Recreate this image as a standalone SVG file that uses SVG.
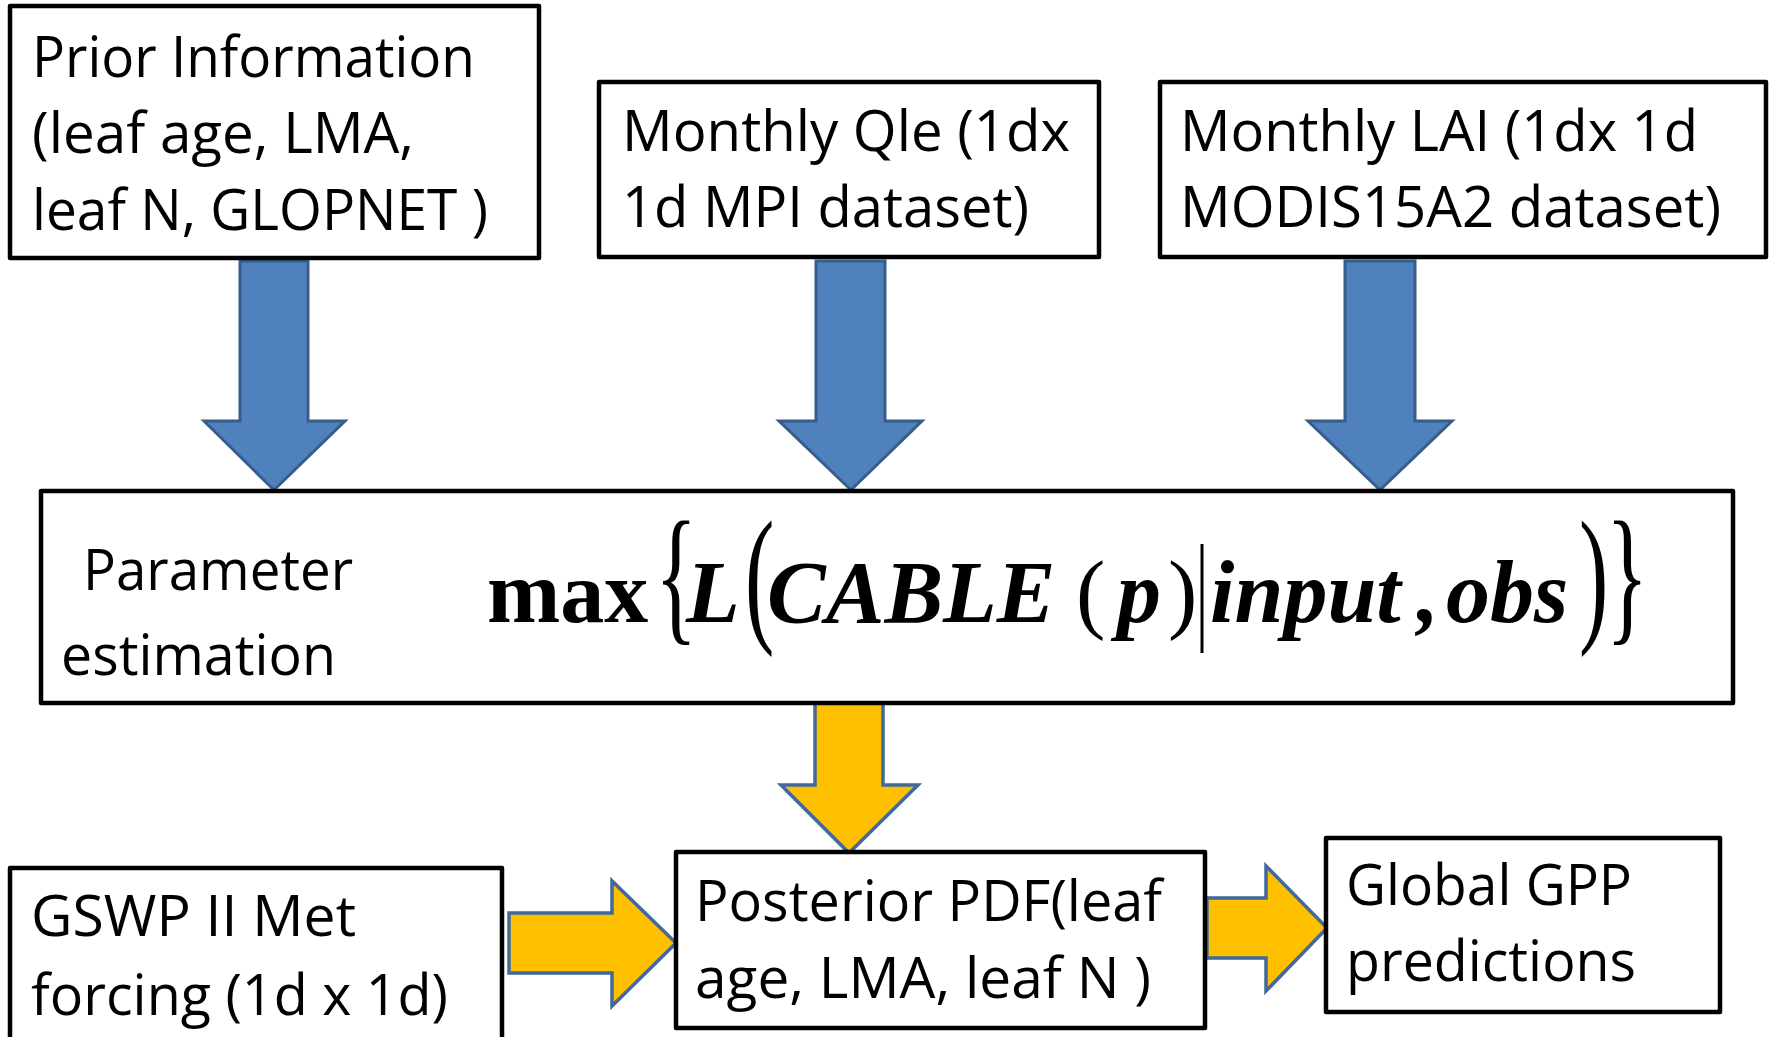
<svg xmlns="http://www.w3.org/2000/svg" width="1773" height="1037" viewBox="0 0 1773 1037">
  <style>
    .box { fill: #ffffff; stroke: #000000; stroke-width: 4.5; stroke-linejoin: round; }
    .lbl { font-family: "Open Sans", "Liberation Sans", sans-serif; font-size: 56px; fill: #000000; }
    .blue { fill: #4F81BD; stroke: #385D8A; stroke-width: 3; stroke-linejoin: miter; }
    .gold { fill: #FFC000; stroke: #41699A; stroke-width: 3.5; stroke-linejoin: miter; }
    .eq { font-family: "Liberation Serif", "Times New Roman", serif; font-size: 88px; fill: #000000; }
    .bi { font-weight: bold; font-style: italic; }
    .b { font-weight: bold; }
  </style>

  <rect width="1773" height="1037" fill="#ffffff"/>

  <!-- block arrows between the steps -->
  <g id="connectors">
    <polygon class="blue" points="240,261 308,261 308,421 345,421 274,490 204,421 240,421"/>
    <polygon class="blue" points="816,261 885,261 885,421 922,421 851,490 779,421 816,421"/>
    <polygon class="blue" points="1345,261 1415,261 1415,421 1452,421 1380,490 1308,421 1345,421"/>
    <polygon class="gold" points="815,703 883,703 883,785 918,785 849,853 781,785 815,785"/>
    <polygon class="gold" points="509,913 612,913 612,881 676,943 612,1006 612,973 509,973"/>
    <polygon class="gold" points="1207,898 1266,898 1266,866 1327,928 1266,991 1266,958 1207,958"/>
  </g>

  <g id="prior">
    <rect class="box" x="10" y="6" width="529" height="252"/>
    <text class="lbl" x="32" y="77" textLength="443" lengthAdjust="spacingAndGlyphs">Prior Information</text>
    <text class="lbl" x="32" y="153" textLength="382" lengthAdjust="spacingAndGlyphs">(leaf age, LMA,</text>
    <text class="lbl" x="32" y="230" textLength="456" lengthAdjust="spacingAndGlyphs">leaf N, GLOPNET )</text>
  </g>

  <g id="qle">
    <rect class="box" x="599" y="82" width="500" height="175"/>
    <text class="lbl" x="622" y="151" textLength="448" lengthAdjust="spacingAndGlyphs">Monthly Qle (1dx</text>
    <text class="lbl" x="622" y="227" textLength="407" lengthAdjust="spacingAndGlyphs">1d MPI dataset)</text>
  </g>

  <g id="lai">
    <rect class="box" x="1160" y="82" width="606" height="175"/>
    <text class="lbl" x="1180" y="151" textLength="518" lengthAdjust="spacingAndGlyphs">Monthly LAI (1dx 1d</text>
    <text class="lbl" x="1180" y="227" textLength="541" lengthAdjust="spacingAndGlyphs">MODIS15A2 dataset)</text>
  </g>

  <g id="estimation">
    <rect class="box" x="41" y="491" width="1692" height="212"/>
    <text class="lbl" x="83" y="590" textLength="270" lengthAdjust="spacingAndGlyphs">Parameter</text>
    <text class="lbl" x="61" y="675" textLength="275" lengthAdjust="spacingAndGlyphs">estimation</text>
    <!-- likelihood expression -->
    <g class="eq">
      <text class="b" x="487" y="622">max</text>
      <text transform="translate(655,588) scale(1,1.7)" y="22">{</text>
      <text class="bi" x="686" y="622">L</text>
      <text transform="translate(745,588) scale(1,1.7)" y="22">(</text>
      <text class="bi" x="767" y="622">CABLE</text>
      <text x="1076" y="622">(</text>
      <text class="bi" x="1117" y="622">p</text>
      <text x="1168" y="622">)</text>
      <line x1="1202" y1="544" x2="1202" y2="653" stroke="#000000" stroke-width="3"/>
      <text class="bi" x="1210" y="622">input</text>
      <text class="bi" x="1417" y="622">,</text>
      <text class="bi" x="1446" y="622">obs</text>
      <text transform="translate(1579,588) scale(1,1.7)" y="22">)</text>
      <text transform="translate(1606,588) scale(1,1.7)" y="22">}</text>
    </g>
  </g>

  <g id="gswp">
    <rect class="box" x="10" y="868" width="492" height="200"/>
    <text class="lbl" x="31" y="936" textLength="325" lengthAdjust="spacingAndGlyphs">GSWP II Met</text>
    <text class="lbl" x="31" y="1015" textLength="417" lengthAdjust="spacingAndGlyphs">forcing (1d x 1d)</text>
  </g>

  <g id="posterior">
    <rect class="box" x="676" y="852" width="529" height="176"/>
    <text class="lbl" x="695" y="921" textLength="467" lengthAdjust="spacingAndGlyphs">Posterior PDF(leaf</text>
    <text class="lbl" x="695" y="998" textLength="456" lengthAdjust="spacingAndGlyphs">age, LMA, leaf N )</text>
  </g>

  <g id="gpp">
    <rect class="box" x="1326" y="838" width="394" height="174"/>
    <text class="lbl" x="1346" y="905" textLength="286" lengthAdjust="spacingAndGlyphs">Global GPP</text>
    <text class="lbl" x="1346" y="981" textLength="290" lengthAdjust="spacingAndGlyphs">predictions</text>
  </g>
</svg>
